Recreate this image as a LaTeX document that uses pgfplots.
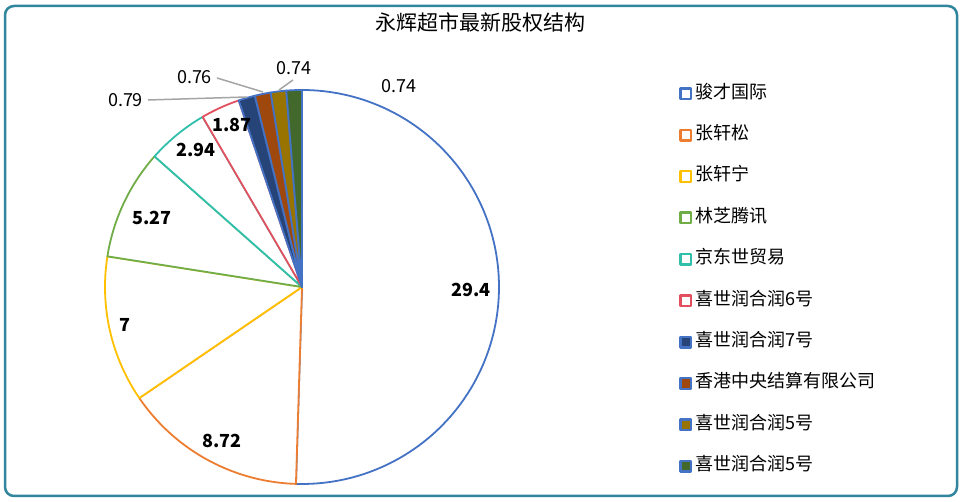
\documentclass[border=0pt]{standalone}
\usepackage{pgfplots}
\usepackage{pgfplotstable}
\pgfplotsset{compat=1.18}
\usepackage{fontspec}
\setmainfont{Noto Sans CJK SC}

\definecolor{c1}{HTML}{4472C4}
\definecolor{c2}{HTML}{ED7D31}
\definecolor{c3}{HTML}{FFC000}
\definecolor{c4}{HTML}{70AD47}
\definecolor{c5}{HTML}{2FBFAA}
\definecolor{c6}{HTML}{E2505F}
\definecolor{f7}{HTML}{264478}
\definecolor{f8}{HTML}{9E480E}
\definecolor{f9}{HTML}{997300}
\definecolor{f10}{HTML}{43682B}
\definecolor{frame}{HTML}{31859C}
\definecolor{leader}{HTML}{A5A5A5}

\pgfplotstableread{
value
29.4
8.72
7
5.27
2.94
1.87
0.79
0.76
0.74
0.74
}\datatable

% total
\gdef\total{0}
\pgfplotstableforeachcolumnelement{value}\of\datatable\as\v{%
  \pgfmathsetmacro\tmp{\total+\v}\xdef\total{\tmp}}
% cumulative end angles (clockwise from top)
\expandafter\gdef\csname E-1\endcsname{90}
\gdef\cur{90}
\pgfplotstableforeachcolumnelement{value}\of\datatable\as\v{%
  \pgfmathsetmacro\tmp{\cur-\v*360/\total}%
  \xdef\cur{\tmp}%
  \expandafter\xdef\csname E\pgfplotstablerow\endcsname{\tmp}}

\newcommand\slice[3]{%
  \edef\sa{\csname E\the\numexpr#1-1\relax\endcsname}%
  \edef\ea{\csname E#1\endcsname}%
  \edef\temp{\noexpand\addplot[draw=#2, fill=#3, line width=1.8pt, line join=round,
     domain=\ea:\sa, samples=120, variable=\noexpand\t]
     ({302+197*cos(\noexpand\t)},{215+197*sin(\noexpand\t)}) -- (axis cs:302,215) -- cycle;}%
  \temp
}

\begin{document}
\begin{tikzpicture}
\begin{axis}[
  width=961pt, height=502pt, scale only axis,
  xmin=0, xmax=961, ymin=0, ymax=502,
  hide axis, clip=false,
  legend image code/.code={\draw[#1, line width=2.4pt] (1.2pt,-5.3pt) rectangle (11.8pt,5.3pt);},
  legend style={at={(axis cs:679,417)}, anchor=north west, draw=none, fill=none,
    font=\fontsize{18}{18}\selectfont, row sep=24.4pt, inner sep=0pt,
    nodes={inner sep=0pt, text height=13pt, text depth=4pt},
    cells={anchor=west}},
  legend cell align=left,
]
\slice{0}{c1}{white}\addlegendentry{\,骏才国际}
\slice{1}{c2}{white}\addlegendentry{\,张轩松}
\slice{2}{c3}{white}\addlegendentry{\,张轩宁}
\slice{3}{c4}{white}\addlegendentry{\,林芝腾讯}
\slice{4}{c5}{white}\addlegendentry{\,京东世贸易}
\slice{5}{c6}{white}\addlegendentry{\,喜世润合润6号}
\slice{6}{c1}{f7}\addlegendentry{\,喜世润合润7号}
\slice{7}{c1}{f8}\addlegendentry{\,香港中央结算有限公司}
\slice{8}{c1}{f9}\addlegendentry{\,喜世润合润5号}
\slice{9}{c1}{f10}\addlegendentry{\,喜世润合润5号}

% leader lines
\addplot[leader, line width=1.5pt, forget plot] coordinates {(148,402) (247,405)};
\addplot[leader, line width=1.5pt, forget plot] coordinates {(217,424) (263,410)};
\addplot[leader, line width=1.5pt, forget plot] coordinates {(293,422) (279,412)};

% data labels
\begin{scope}[every node/.style={font=\fontsize{18}{18}\selectfont\bfseries, inner sep=0pt}]
\node at (axis cs:471,212) {29.4};
\node at (axis cs:222,61) {8.72};
\node at (axis cs:125,177) {7};
\node at (axis cs:152,284) {5.27};
\node at (axis cs:196,352) {2.94};
\node at (axis cs:232,377) {1.87};
\end{scope}
\begin{scope}[every node/.style={font=\fontsize{18}{18}\selectfont, inner sep=0pt}]
\node at (axis cs:125.5,402) {0.79};
\node at (axis cs:194.5,425) {0.76};
\node at (axis cs:293.5,434) {0.74};
\node at (axis cs:399,416) {0.74};
\end{scope}

% title
\node[font=\fontsize{21}{21}\selectfont, inner sep=0pt] at (axis cs:480,480) {永辉超市最新股权结构};

% frame
\draw[frame, line width=2.5pt, rounded corners=9pt] (axis cs:5,6) rectangle (axis cs:957,496);
\end{axis}
\pgfresetboundingbox
\path (0,0) rectangle (961pt,502pt);
\end{tikzpicture}
\end{document}
